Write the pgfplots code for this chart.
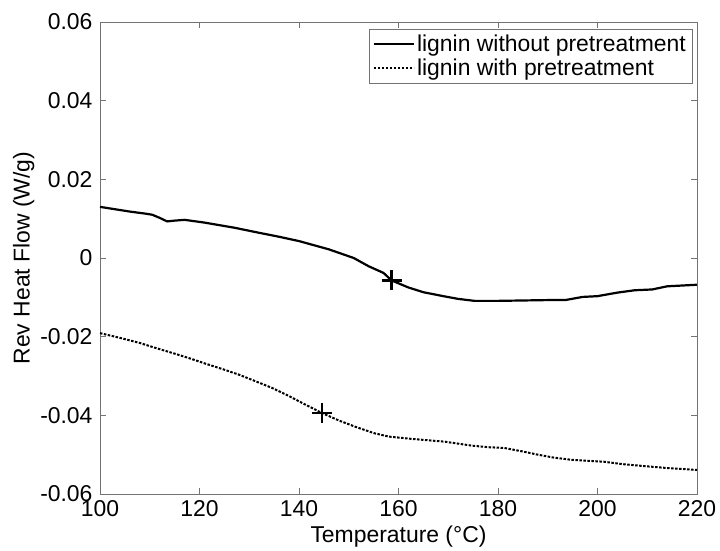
\documentclass[border=0pt]{standalone}
\usepackage{pgfplots}
\pgfplotsset{compat=1.18}
\usepackage{fontspec}
\setmainfont{Liberation Sans}
\newcommand{\ff}{\fontsize{23}{26}\selectfont}
\begin{document}
\begin{tikzpicture}
\begin{axis}[
  scale only axis, width=597bp, height=472bp,
  xmin=100, xmax=220, ymin=-0.06, ymax=0.06,
  xtick={100,120,140,160,180,200,220},
  xticklabels={100,120,140,160,180,200,220},
  ytick={-0.06,-0.04,-0.02,0,0.02,0.04,0.06},
  yticklabels={-0.06,-0.04,-0.02,0,0.02,0.04,0.06},
  scaled y ticks=false,
  tick align=inside, major tick length=6bp,
  axis line style={black!55, line width=0.8bp},
  every tick/.style={black!55, line width=0.8bp},
  tick label style={font=\ff},
  xticklabel style={yshift=-3bp},
  yticklabel style={xshift=-4bp},
  /pgf/number format/assume math mode=true,
  xlabel={Temperature (°C)},
  ylabel={Rev Heat Flow (W/g)},
  label style={font=\ff},
  xlabel style={yshift=-2bp},
  ylabel style={yshift=-1bp},
  legend style={at={(1,1)}, anchor=north east, xshift=-5bp, yshift=-7bp,
    draw=black!55, font=\ff, inner sep=4bp, row sep=2bp},
  legend cell align=left,
  legend image code/.code={\draw[#1] (0bp,0bp) -- (40bp,0bp);},
  clip=false,
]
\addplot[black, line width=2.2bp] coordinates {
(100,0.0130) (103,0.0124) (106,0.0118) (109,0.0113) (110.5,0.0110) (112,0.0102)
(113.5,0.0093) (115,0.0095) (117,0.0097) (121,0.0090) (127,0.0077) (132,0.0064)
(136,0.0054) (140,0.0043) (146,0.0022) (151,0.0000) (154,-0.0021) (157,-0.0038)
(158.6,-0.0057) (162,-0.0075) (165,-0.0087) (169,-0.0097) (172,-0.0104)
(175.3,-0.0109) (180,-0.0109) (185,-0.0108) (190,-0.0107) (193.5,-0.0107)
(197,-0.0099) (200,-0.0097) (204,-0.0088) (207.5,-0.0082) (211,-0.0080)
(214,-0.0072) (220,-0.0068)
};
\addlegendentry{lignin without pretreatment}
\addplot[black, line width=2bp, dash pattern=on 2.5bp off 1.5bp] coordinates {
(100,-0.0191) (104,-0.0203) (108,-0.0216) (111,-0.0228) (114.7,-0.0242)
(118,-0.0255) (121.3,-0.0269) (125,-0.0284) (128,-0.0297) (131,-0.0312)
(134.7,-0.0331) (138,-0.0351) (140.7,-0.0369) (144.6,-0.0394) (148,-0.0413)
(151.3,-0.0429) (155,-0.0445) (158,-0.0454) (162.7,-0.0460) (169.3,-0.0467)
(174.7,-0.0477) (178,-0.0481) (181.3,-0.0483) (185,-0.0492) (188,-0.0500)
(191,-0.0507) (194.7,-0.0513) (201.3,-0.0518) (205,-0.0524) (209.3,-0.0529)
(214,-0.0534) (220,-0.0539)
};
\addlegendentry{lignin with pretreatment}
\addplot[only marks, black, mark=+, mark size=10bp, line width=2.2bp, forget plot]
  coordinates {(158.6,-0.0057) (144.6,-0.0394)};
\path (rel axis cs:0,0) ++(-100bp,-54bp) coordinate (bbsw);
\path (rel axis cs:1,1) ++(23bp,22bp) coordinate (bbne);
\end{axis}
\useasboundingbox (bbsw) rectangle (bbne);
\end{tikzpicture}
\end{document}
